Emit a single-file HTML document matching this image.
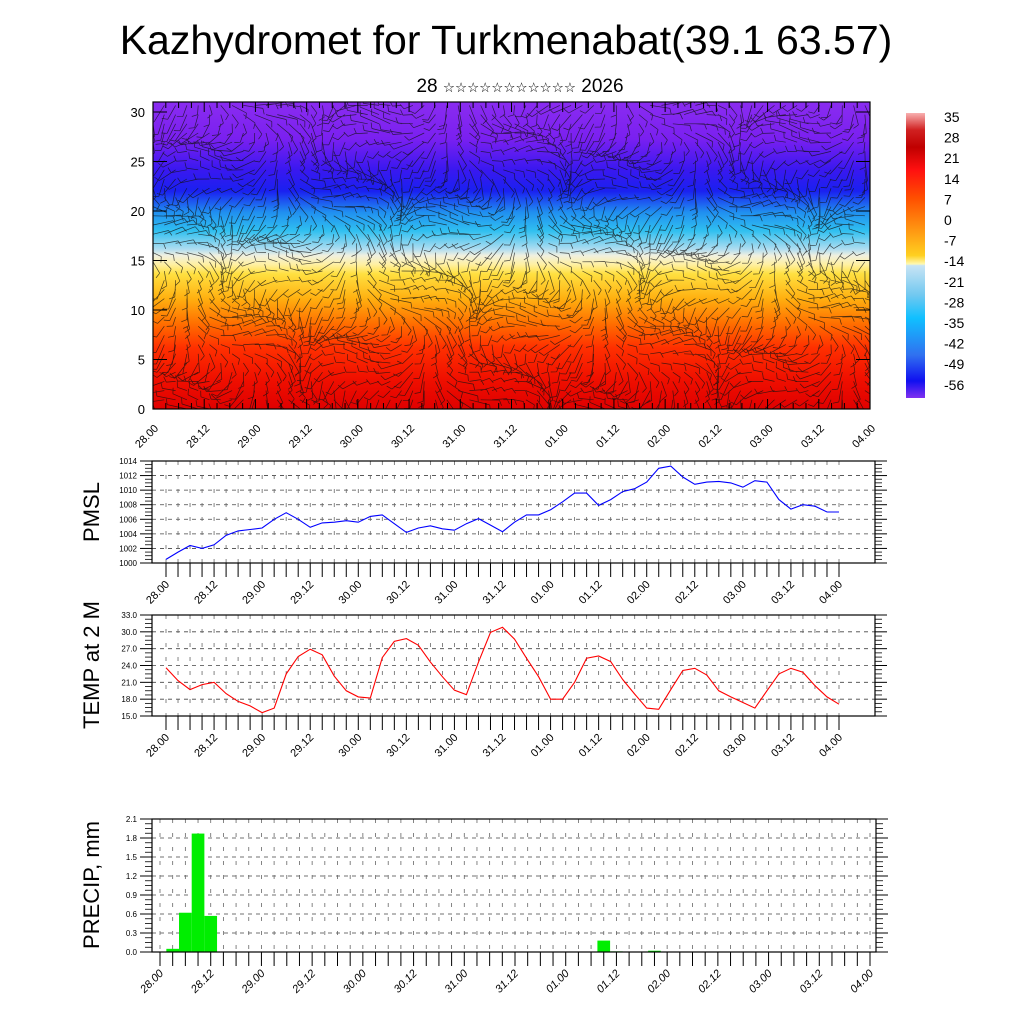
<!DOCTYPE html>
<html><head><meta charset="utf-8"><style>
body{margin:0;background:#fff;font-family:"Liberation Sans","DejaVu Sans",sans-serif}
svg text{font-family:"Liberation Sans","DejaVu Sans",sans-serif}
</style></head><body>
<svg id="svg" width="1024" height="1024" xmlns="http://www.w3.org/2000/svg">
<defs>
<linearGradient id="tgrad" x1="0" y1="0" x2="0" y2="1">
<stop offset="0" stop-color="#8a2cf0"/><stop offset="0.12" stop-color="#7a20f0"/>
<stop offset="0.22" stop-color="#3a18f0"/><stop offset="0.29" stop-color="#1a20f0"/>
<stop offset="0.36" stop-color="#2090f0"/><stop offset="0.42" stop-color="#30c0f0"/>
<stop offset="0.48" stop-color="#b0ddf0"/><stop offset="0.5" stop-color="#f0f0e0"/>
<stop offset="0.53" stop-color="#fff0a0"/><stop offset="0.56" stop-color="#ffe040"/>
<stop offset="0.64" stop-color="#ffb010"/><stop offset="0.72" stop-color="#ff7000"/>
<stop offset="0.8" stop-color="#ff3000"/><stop offset="0.9" stop-color="#f01000"/>
<stop offset="1" stop-color="#e00000"/>
</linearGradient>
<linearGradient id="cbgrad" x1="0" y1="0" x2="0" y2="1">
<stop offset="0" stop-color="#f8b0b0"/><stop offset="0.06" stop-color="#d02020"/>
<stop offset="0.12" stop-color="#c00000"/><stop offset="0.2" stop-color="#ff1010"/>
<stop offset="0.3" stop-color="#ff5000"/><stop offset="0.4" stop-color="#ff9010"/>
<stop offset="0.5" stop-color="#ffd020"/><stop offset="0.53" stop-color="#fff8b0"/>
<stop offset="0.535" stop-color="#c8e4f4"/><stop offset="0.64" stop-color="#70c8f0"/>
<stop offset="0.72" stop-color="#10c0ff"/><stop offset="0.85" stop-color="#3070f0"/>
<stop offset="0.94" stop-color="#1010f0"/><stop offset="1" stop-color="#8030f0"/>
</linearGradient>
<clipPath id="topclip"><rect x="153" y="102" width="717" height="307"/></clipPath>
</defs>
<text x="506" y="54" font-size="41" text-anchor="middle">Kazhydromet for Turkmenabat(39.1 63.57)</text>
<text x="520" y="92" font-size="19" text-anchor="middle">28 <tspan font-size="13.5" font-family="DejaVu Sans, sans-serif">☆☆☆☆☆☆☆☆☆☆☆</tspan> 2026</text>

<g>
<rect x="153" y="102" width="717" height="307" fill="url(#tgrad)"/>
<g id="barbs" clip-path="url(#topclip)" stroke="#111" stroke-width="0.7" stroke-opacity="0.75"></g>
<rect x="153" y="102" width="717" height="307" fill="none" stroke="#000" stroke-width="1.2"/>
<g id="topaxes"></g>
</g>

<g>
<rect x="906" y="113" width="19" height="285" fill="url(#cbgrad)"/>
<g id="cblabels" font-size="14"></g>
</g>

<g id="pmsl"></g>
<g id="temp"></g>
<g id="precip"></g>
</svg>
<script>
const dayLabels=["28.00","28.12","29.00","29.12","30.00","30.12","31.00","31.12","01.00","01.12","02.00","02.12","03.00","03.12","04.00"];
const pmslValues=[1000.5,1001.5,1002.4,1002.0,1002.5,1003.8,1004.4,1004.6,1004.8,1006.0,1006.9,1006.0,1004.9,1005.5,1005.6,1005.8,1005.6,1006.4,1006.6,1005.4,1004.2,1004.8,1005.1,1004.7,1004.5,1005.4,1006.1,1005.2,1004.3,1005.6,1006.6,1006.6,1007.3,1008.4,1009.6,1009.6,1007.9,1008.7,1009.8,1010.2,1011.1,1013.0,1013.3,1011.8,1010.8,1011.1,1011.2,1011.0,1010.4,1011.3,1011.1,1008.7,1007.4,1008.0,1007.8,1007.0,1007.0];
const tempValues=[23.6,21.3,19.7,20.6,21.0,19.0,17.6,16.8,15.6,16.4,22.5,25.6,26.9,25.9,22.1,19.5,18.4,18.2,25.4,28.3,28.8,27.6,24.6,22.0,19.6,18.8,24.6,29.9,30.8,28.7,25.3,22.0,18.0,18.0,21.0,25.3,25.7,24.7,21.5,18.9,16.4,16.2,19.7,23.1,23.5,22.3,19.5,18.4,17.4,16.4,19.5,22.5,23.5,22.8,20.4,18.4,17.1];
const precipIndex=[1,2,3,4,35,36,39];
const precipValues=[0.05,0.62,1.87,0.57,0.18,0.01,0.02];
const pmslTicks=[1000,1002,1004,1006,1008,1010,1012,1014];
const tempTicks=[15.0,18.0,21.0,24.0,27.0,30.0,33.0];
const precipTicks=[0.0,0.3,0.6,0.9,1.2,1.5,1.8,2.1];
const heightTicks=[0,5,10,15,20,25,30];
const cbLabels=[35,28,21,14,7,0,-7,-14,-21,-28,-35,-42,-49,-56];

const NS="http://www.w3.org/2000/svg";
function mk(tag,attrs,parent,txt){const e=document.createElementNS(NS,tag);for(const k in attrs)e.setAttribute(k,attrs[k]);if(txt!==undefined)e.textContent=txt;parent.appendChild(e);return e;}

(function(){
  const g=document.getElementById('topaxes');
  const x0=153,x1=870,yb=409,yt=112;
  const ys=v=>yb-(v/30)*(yb-yt);
  heightTicks.forEach(v=>{
    const y=ys(v);
    mk('line',{x1:x0,x2:x0+14,y1:y,y2:y,stroke:'#000','stroke-width':1},g);
    mk('line',{x1:x1-14,x2:x1,y1:y,y2:y,stroke:'#000','stroke-width':1},g);
    const t=mk('text',{x:x0-8,y:y+5,'font-size':13,'text-anchor':'end'},g,String(v));
    
    
  });
  const n=56;
  for(let i=0;i<=n;i++){
    const x=x0+(x1-x0)*i/n;
    mk('line',{x1:x,x2:x,y1:yb,y2:yb-(i%4==0?10:6),stroke:'#000','stroke-width':1},g);
    mk('line',{x1:x,x2:x,y1:102,y2:102+(i%4==0?10:6),stroke:'#000','stroke-width':1},g);
  }
  dayLabels.forEach((l,k)=>{
    const x=x0+(x1-x0)*k/14+6,y=yb+20;
    const t=mk('text',{x:x,y:y,'font-size':11,'text-anchor':'end',transform:`rotate(-45 ${x} ${y})`},g,l);
    
    
  });
  const b=document.getElementById('barbs');
  let d='';
  for(let c=0;c<64;c++){for(let r=0;r<34;r++){
    const x=153+c*11.3,y=409-r*9.2;
    const a=1.6+1.2*Math.sin(c*0.35+r*0.22)+0.8*Math.cos(r*0.5-c*0.15);
    const L=15+6*Math.sin(c*0.7+r);
    const dx=Math.cos(a)*L,dy=Math.sin(a)*L;
    d+=`M${x.toFixed(1)} ${y.toFixed(1)}l${dx.toFixed(1)} ${dy.toFixed(1)}`;
    const bx=x+dx,by=y+dy,pa=a+1.2;
    d+=`M${bx.toFixed(1)} ${by.toFixed(1)}l${(Math.cos(pa)*6).toFixed(1)} ${(Math.sin(pa)*6).toFixed(1)}`;
  }}
  mk('path',{d:d,fill:'none'},b);
  const cg=document.getElementById('cblabels');
  cbLabels.forEach((v,i)=>{
    const t=mk('text',{x:944,y:122+i*20.6},cg,String(v));
    
    
  });
})();

function panel(id,o){
  const g=document.getElementById(id);
  const {fx0,fx1,fy0,fy1,tx0,tx1,ticks,fmt,title,titleY}=o;
  const vmin=ticks[0],vmax=ticks[ticks.length-1];
  const ys=v=>fy1-(v-vmin)/(vmax-vmin)*(fy1-fy0);
  const xs=i=>tx0+(tx1-tx0)*i/56;
  ticks.forEach(v=>{const y=ys(v);
    mk('line',{x1:fx0,x2:fx1,y1:y,y2:y,stroke:'#444','stroke-width':0.8,'stroke-dasharray':'4 4'},g);});
  for(let i=0;i<=56;i++){const x=xs(i);
    mk('line',{x1:x,x2:x,y1:fy0,y2:fy1,stroke:'#666','stroke-width':0.8,'stroke-dasharray':'4 10'},g);}
  o.draw(g,xs,ys);
  mk('rect',{x:fx0,y:fy0,width:fx1-fx0,height:fy1-fy0,fill:'none',stroke:'#000','stroke-width':1.2},g);
  const step=(ticks[1]-ticks[0])/4;
  for(let v=vmin;v<=vmax+1e-6;v+=step){const y=ys(v);const maj=Math.abs((v-vmin)/(ticks[1]-ticks[0])-Math.round((v-vmin)/(ticks[1]-ticks[0])))<1e-3;
    const L=maj?12:7;
    mk('line',{x1:fx0-L,x2:fx0,y1:y,y2:y,stroke:'#000','stroke-width':maj?1:0.8},g);
    mk('line',{x1:fx1,x2:fx1+L,y1:y,y2:y,stroke:'#000','stroke-width':maj?1:0.8},g);
  }
  ticks.forEach(v=>{const t=mk('text',{x:fx0-15,y:ys(v)+3,'font-size':8,'text-anchor':'end'},g,fmt(v));
    
    });
  for(let i=0;i<=56;i++){const x=xs(i);
    mk('line',{x1:x,x2:x,y1:fy1,y2:fy1+14,stroke:'#000','stroke-width':1},g);}
  dayLabels.forEach((l,k)=>{const x=tx0+(tx1-tx0)*k/14+4,y=fy1+22;
    const t=mk('text',{x:x,y:y,'font-size':11,'text-anchor':'end',transform:`rotate(-45 ${x} ${y})`,'font-style':o.italic?'italic':'normal'},g,l);
    
    });
  const t=mk('text',{x:0,y:0,'font-size':22,'text-anchor':'middle',transform:`translate(99 ${titleY}) rotate(-90)`},g,title);
  
  
}
panel('pmsl',{fx0:152,fx1:875,fy0:461,fy1:563,tx0:166,tx1:839,ticks:pmslTicks,fmt:v=>String(v),title:'PMSL',titleY:512,
  draw:(g,xs,ys)=>{const p=mk('polyline',{points:pmslValues.map((v,i)=>xs(i).toFixed(1)+','+ys(v).toFixed(1)).join(' '),fill:'none',stroke:'#0000ff','stroke-width':1.1},g);
    
    }});
panel('temp',{fx0:152,fx1:875,fy0:615,fy1:716,tx0:166,tx1:839,ticks:tempTicks,fmt:v=>v.toFixed(1),title:'TEMP at 2 M',titleY:665,
  draw:(g,xs,ys)=>{const p=mk('polyline',{points:tempValues.map((v,i)=>xs(i).toFixed(1)+','+ys(v).toFixed(1)).join(' '),fill:'none',stroke:'#ff0000','stroke-width':1.1},g);
    
    }});
panel('precip',{fx0:152,fx1:876,fy0:819,fy1:952,tx0:160,tx1:870,ticks:precipTicks,fmt:v=>v.toFixed(1),title:'PRECIP, mm',titleY:885,italic:true,
  draw:(g,xs,ys)=>{const w=(870-160)/56;precipIndex.forEach((idx,k)=>{
    const r=mk('rect',{x:xs(idx)-w/2,y:ys(precipValues[k]),width:w,height:ys(0)-ys(precipValues[k]),fill:'#00ee00'},g);
    
    });}});
</script>
</body></html>
